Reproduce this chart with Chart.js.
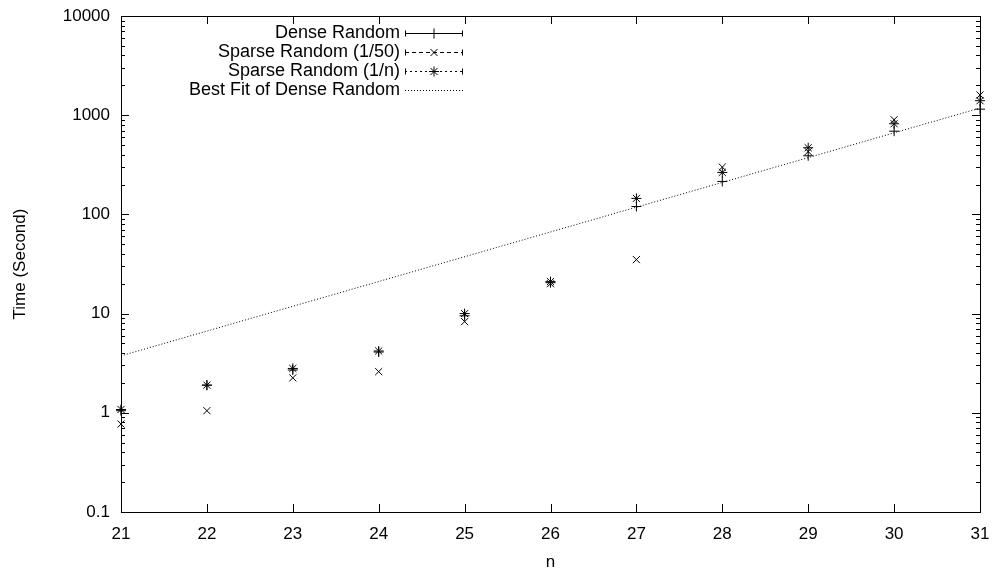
<!DOCTYPE html>
<html>
<head>
<meta charset="utf-8">
<script src="https://cdn.jsdelivr.net/npm/chart.js@4.4.1/dist/chart.umd.min.js"></script>
<style>
  html, body { margin: 0; padding: 0; background: #fff; }
  #wrap { width: 996px; height: 573px; }
</style>
</head>
<body>
<div id="wrap"><canvas id="chart1" width="996" height="573"></canvas></div>
<script>
// data
const nValues = [21, 22, 23, 24, 25, 26, 27, 28, 29, 30, 31];
const denseRandom = [1.05, 1.9, 2.7, 4.1, 9.5, 20.5, 120, 215, 390, 690, 1150];
const sparse50 = [0.77, 1.05, 2.25, 2.6, 8.3, 20, 35, 300, 430, 900, 1600];
const sparseN = [1.08, 1.9, 2.8, 4.2, 10, 21, 145, 265, 470, 820, 1400];
const fitN = [21, 31];
const fitTime = [3.75, 1180];
const yMajorTicks = [0.1, 1, 10, 100, 1000, 10000];

const FONT = "'Liberation Sans', Arial, sans-serif";

function toPoints(xs, ys) {
    return xs.map((x, i) => ({ x: x, y: ys[i] }));
}

// gnuplot style inward ticks + border + legend
const gnuplotFrame = {
    id: 'gnuplotFrame',
    afterDraw(chart) {
        const ctx = chart.ctx;
        const a = chart.chartArea;
        const xs = chart.scales.x, ys = chart.scales.y;
        ctx.save();
        ctx.strokeStyle = '#000';
        ctx.lineWidth = 1;
        ctx.strokeRect(Math.round(a.left) + 0.5, Math.round(a.top) + 0.5,
            Math.round(a.right - a.left), Math.round(a.bottom - a.top));
        ctx.beginPath();
        for (let n = 21; n <= 31; n++) {
            const px = Math.round(xs.getPixelForValue(n)) + 0.5;
            ctx.moveTo(px, a.bottom); ctx.lineTo(px, a.bottom - 8);
            ctx.moveTo(px, a.top); ctx.lineTo(px, a.top + 8);
        }
        yMajorTicks.forEach((v, i) => {
            const py = Math.round(ys.getPixelForValue(v)) + 0.5;
            ctx.moveTo(a.left, py); ctx.lineTo(a.left + 8, py);
            ctx.moveTo(a.right, py); ctx.lineTo(a.right - 8, py);
            if (i < yMajorTicks.length - 1) {
                for (let k = 2; k <= 9; k++) {
                    const my = Math.round(ys.getPixelForValue(v * k)) + 0.5;
                    ctx.moveTo(a.left, my); ctx.lineTo(a.left + 4, my);
                    ctx.moveTo(a.right, my); ctx.lineTo(a.right - 4, my);
                }
            }
        });
        ctx.stroke();

        // legend
        const rows = chart.data.datasets;
        const textRight = 400, s0 = 405, s1 = 463;
        ctx.font = '18px ' + FONT;
        ctx.fillStyle = '#000';
        ctx.textAlign = 'right';
        ctx.textBaseline = 'middle';
        rows.forEach((ds, i) => {
            const y = 33 + i * 19;
            ctx.fillText(ds.label, textRight, y);
            const py = Math.round(y) + 0.5;
            ctx.setLineDash(ds.borderDash || []);
            ctx.beginPath();
            ctx.moveTo(s0, py); ctx.lineTo(s1, py);
            ctx.stroke();
            ctx.setLineDash([]);
            if (ds.pointRadius > 0) {
                ctx.beginPath();
                ctx.moveTo(s0 + 0.5, py - 3); ctx.lineTo(s0 + 0.5, py + 3);
                ctx.moveTo(s1 - 0.5, py - 3); ctx.lineTo(s1 - 0.5, py + 3);
                ctx.stroke();
                Chart.helpers.drawPoint(ctx, {
                    pointStyle: ds.pointStyle, radius: ds.pointRadius,
                    rotation: 0, borderWidth: 1
                }, (s0 + s1) / 2, py);
            }
        });
        ctx.restore();
    }
};

new Chart(document.getElementById("chart1"), {
    type: 'scatter',
    data: {
        datasets: [{
            label: "Dense Random",
            data: toPoints(nValues, denseRandom),
            pointStyle: 'cross',
            pointRadius: 5,
            borderColor: '#000',
            backgroundColor: '#000',
            borderWidth: 1,
            clip: false
        }, {
            label: "Sparse Random (1/50)",
            data: toPoints(nValues, sparse50),
            pointStyle: 'crossRot',
            pointRadius: 5,
            borderColor: '#000',
            backgroundColor: '#000',
            borderWidth: 1,
            borderDash: [4, 3],
            clip: false
        }, {
            label: "Sparse Random (1/n)",
            data: toPoints(nValues, sparseN),
            pointStyle: 'star',
            pointRadius: 5,
            borderColor: '#000',
            backgroundColor: '#000',
            borderWidth: 1,
            borderDash: [2, 3],
            clip: false
        }, {
            label: "Best Fit of Dense Random",
            type: 'line',
            data: toPoints(fitN, fitTime),
            pointRadius: 0,
            borderColor: '#000',
            borderWidth: 1,
            borderDash: [1, 2],
            fill: false
        }]
    },
    options: {
        responsive: false,
        animation: false,
        layout: { padding: { top: 16, right: 16, left: 10, bottom: 0 } },
        plugins: {
            legend: { display: false },
            tooltip: { enabled: false }
        },
        scales: {
            x: {
                type: 'linear',
                min: 21,
                max: 31,
                grid: { display: false, drawTicks: false },
                border: { display: false },
                ticks: {
                    stepSize: 1,
                    color: '#000',
                    padding: 12,
                    font: { family: FONT, size: 17 }
                },
                title: {
                    display: true,
                    text: 'n',
                    color: '#000',
                    padding: { top: 2, bottom: 0 },
                    font: { family: FONT, size: 17 }
                },
                afterFit(scale) {
                    scale.height = 61;
                    scale.paddingLeft = 0;
                    scale.paddingRight = 0;
                }
            },
            y: {
                type: 'logarithmic',
                min: 0.1,
                max: 10000,
                grid: { display: false, drawTicks: false },
                border: { display: false },
                afterBuildTicks(scale) {
                    scale.ticks = yMajorTicks.map(v => ({ value: v }));
                },
                ticks: {
                    color: '#000',
                    padding: 11,
                    font: { family: FONT, size: 17 },
                    callback: v => String(v)
                },
                title: {
                    display: true,
                    text: 'Time (Second)',
                    color: '#000',
                    padding: { top: 0, bottom: 0 },
                    font: { family: FONT, size: 17 }
                },
                afterFit(scale) {
                    scale.width = 111;
                    scale.paddingTop = 0;
                    scale.paddingBottom = 0;
                }
            }
        }
    },
    plugins: [gnuplotFrame]
});
</script>
</body>
</html>
